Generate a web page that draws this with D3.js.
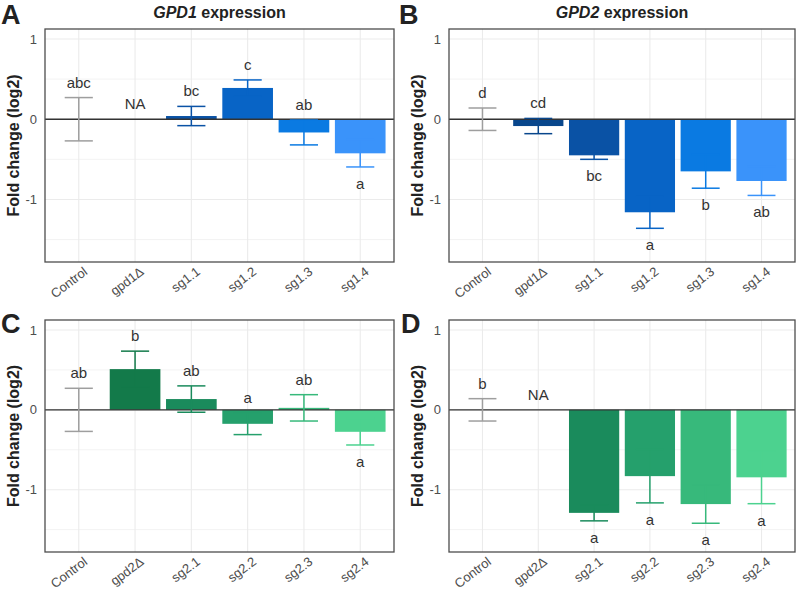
<!DOCTYPE html>
<html>
<head>
<meta charset="utf-8">
<script src="https://cdn.jsdelivr.net/npm/d3@7"></script>
<style>
  body { margin: 0; background: #fff; }
  svg { font-family: "Liberation Sans", Arial, sans-serif; }
  .grid line { stroke: #ebebeb; }
  .tick-label { fill: #4d4d4d; font-size: 13px; }
  .ytitle { fill: #222; font-size: 16px; font-weight: bold; }
  .ptitle { fill: #222; font-size: 16px; font-weight: bold; }
  .letter { fill: #222; font-size: 27px; font-weight: bold; }
  .sig { fill: #333; font-size: 15px; }
</style>
</head>
<body>
<svg width="800" height="592"></svg>
<script>
const groupsGpd1 = ["Control", "gpd1Δ", "sg1.1", "sg1.2", "sg1.3", "sg1.4"]
const groupsGpd2 = ["Control", "gpd2Δ", "sg2.1", "sg2.2", "sg2.3", "sg2.4"]

// panel A: GPD1 expression, gpd1 strains
const meanA = [0, null, 0.04, 0.39, -0.165, -0.425]
const seA = [0.27, null, 0.12, 0.10, 0.155, 0.17]
const sigA = ["abc", "NA", "bc", "c", "ab", "a"]

// panel B: GPD2 expression, gpd1 strains
const meanB = [0, -0.085, -0.45, -1.16, -0.65, -0.77]
const seB = [0.14, 0.095, 0.05, 0.2, 0.21, 0.18]
const sigB = ["d", "cd", "bc", "a", "b", "ab"]

// panel C: GPD1 expression, gpd2 strains
const meanC = [0, 0.51, 0.135, -0.175, 0.025, -0.275]
const seC = [0.27, 0.225, 0.165, 0.135, 0.165, 0.165]
const sigC = ["ab", "b", "ab", "a", "ab", "a"]

// panel D: GPD2 expression, gpd2 strains
const meanD = [0, null, -1.29, -0.83, -1.18, -0.845]
const seD = [0.14, null, 0.1, 0.335, 0.24, 0.33]
const sigD = ["b", "NA", "a", "a", "a", "a"]

const blues = ["#9e9e9e", "#08468c", "#0a52a5", "#0864c6", "#0a7ae2", "#3a93fa"]
const greens = ["#9e9e9e", "#137a4a", "#1a8b5c", "#25a06c", "#37b97b", "#4cd28f"]

const yTicks = [-1, 0, 1]
const yMinor = [-1.5, -0.5, 0.5]

const svg = d3.select("svg")

const panels = [
  { letter: "A", title: "GPD1", groups: groupsGpd1, mean: meanA, se: seA, sig: sigA, colors: blues, left: 45, right: 394, top: 29, bottom: 262, lx: 1, ly: 24 },
  { letter: "B", title: "GPD2", groups: groupsGpd1, mean: meanB, se: seB, sig: sigB, colors: blues, left: 449, right: 795, top: 29, bottom: 262, lx: 399, ly: 24 },
  { letter: "C", title: null, groups: groupsGpd2, mean: meanC, se: seC, sig: sigC, colors: greens, left: 45, right: 394, top: 320, bottom: 552, lx: 1, ly: 333 },
  { letter: "D", title: null, groups: groupsGpd2, mean: meanD, se: seD, sig: sigD, colors: greens, left: 449, right: 795, top: 320, bottom: 552, lx: 401, ly: 333 }
]

panels.forEach(p => {
  const g = svg.append("g")

  const x = d3.scaleBand()
    .domain(p.groups)
    .range([p.left, p.right])
    .paddingInner(0.1)
    .paddingOuter(0.15)
  const step = x.step()
  const cx = d => x(d) + x.bandwidth() / 2

  const y = d3.scaleLinear()
    .domain([-1.78, 1.125])
    .range([p.bottom, p.top])

  const rows = p.groups.map((name, i) => ({
    name: name, mean: p.mean[i], se: p.se[i], sig: p.sig[i], color: p.colors[i]
  }))

  // grid
  const grid = g.append("g").attr("class", "grid")
  grid.selectAll(".minor")
    .data(yMinor)
    .enter()
    .append("line")
    .attr("x1", p.left).attr("x2", p.right)
    .attr("y1", d => y(d)).attr("y2", d => y(d))
    .attr("stroke-width", 0.6)
  grid.selectAll(".major")
    .data(yTicks)
    .enter()
    .append("line")
    .attr("x1", p.left).attr("x2", p.right)
    .attr("y1", d => y(d)).attr("y2", d => y(d))
    .attr("stroke-width", 1.1)
  grid.selectAll(".vmajor")
    .data(p.groups)
    .enter()
    .append("line")
    .attr("x1", cx).attr("x2", cx)
    .attr("y1", p.top).attr("y2", p.bottom)
    .attr("stroke-width", 1.1)

  // bars
  g.selectAll(".bar")
    .data(rows.filter(d => d.mean !== null && d.name !== "Control"))
    .enter()
    .append("rect")
    .attr("x", d => x(d.name))
    .attr("width", x.bandwidth())
    .attr("y", d => y(Math.max(0, d.mean)))
    .attr("height", d => Math.abs(y(d.mean) - y(0)))
    .attr("fill", d => d.color)

  // zero line
  g.append("line")
    .attr("x1", p.left).attr("x2", p.right)
    .attr("y1", y(0)).attr("y2", y(0))
    .attr("stroke", "#333")
    .attr("stroke-width", 1.4)

  // error bars
  const eb = g.selectAll(".err")
    .data(rows.filter(d => d.mean !== null))
    .enter()
    .append("g")
    .attr("stroke", d => d.color)
    .attr("stroke-width", 1.5)
  eb.append("line")
    .attr("x1", d => cx(d.name)).attr("x2", d => cx(d.name))
    .attr("y1", d => y(d.mean + d.se)).attr("y2", d => y(d.mean - d.se))
  eb.append("line")
    .attr("x1", d => cx(d.name) - step * 0.25).attr("x2", d => cx(d.name) + step * 0.25)
    .attr("y1", d => y(d.mean + d.se)).attr("y2", d => y(d.mean + d.se))
  eb.append("line")
    .attr("x1", d => cx(d.name) - step * 0.25).attr("x2", d => cx(d.name) + step * 0.25)
    .attr("y1", d => y(d.mean - d.se)).attr("y2", d => y(d.mean - d.se))

  // significance letters
  g.selectAll(".sig")
    .data(rows)
    .enter()
    .append("text")
    .attr("class", "sig")
    .attr("text-anchor", "middle")
    .attr("x", d => cx(d.name))
    .attr("y", d => {
      if (d.mean === null) return y(0) - 10
      if (d.mean > -0.2) return y(d.mean + d.se) - 10
      return y(d.mean - d.se) + 22
    })
    .text(d => d.sig)

  // border
  g.append("rect")
    .attr("x", p.left).attr("y", p.top)
    .attr("width", p.right - p.left).attr("height", p.bottom - p.top)
    .attr("fill", "none")
    .attr("stroke", "#4d4d4d")
    .attr("stroke-width", 1.3)

  // y tick labels
  g.selectAll(".ytick")
    .data(yTicks)
    .enter()
    .append("text")
    .attr("class", "tick-label")
    .attr("text-anchor", "end")
    .attr("x", p.left - 8)
    .attr("y", d => y(d))
    .attr("dy", "0.35em")
    .text(d => d)

  // x tick labels
  g.selectAll(".xtick")
    .data(p.groups)
    .enter()
    .append("text")
    .attr("class", "tick-label")
    .attr("text-anchor", "end")
    .attr("transform", d => `translate(${cx(d) + 4}, ${p.bottom + 4}) rotate(-37)`)
    .attr("dy", "0.72em")
    .text(d => d)

  // y title
  g.append("text")
    .attr("class", "ytitle")
    .attr("text-anchor", "middle")
    .attr("transform", `translate(${p.left - 26}, ${(p.top + p.bottom) / 2}) rotate(-90)`)
    .text("Fold change (log2)")

  // panel title
  if (p.title) {
    const t = g.append("text")
      .attr("class", "ptitle")
      .attr("text-anchor", "middle")
      .attr("x", (p.left + p.right) / 2)
      .attr("y", 18)
    t.append("tspan").attr("font-style", "italic").text(p.title)
    t.append("tspan").text(" expression")
  }

  // panel letter
  g.append("text")
    .attr("class", "letter")
    .attr("x", p.lx)
    .attr("y", p.ly)
    .text(p.letter)
})
</script>
</body>
</html>
